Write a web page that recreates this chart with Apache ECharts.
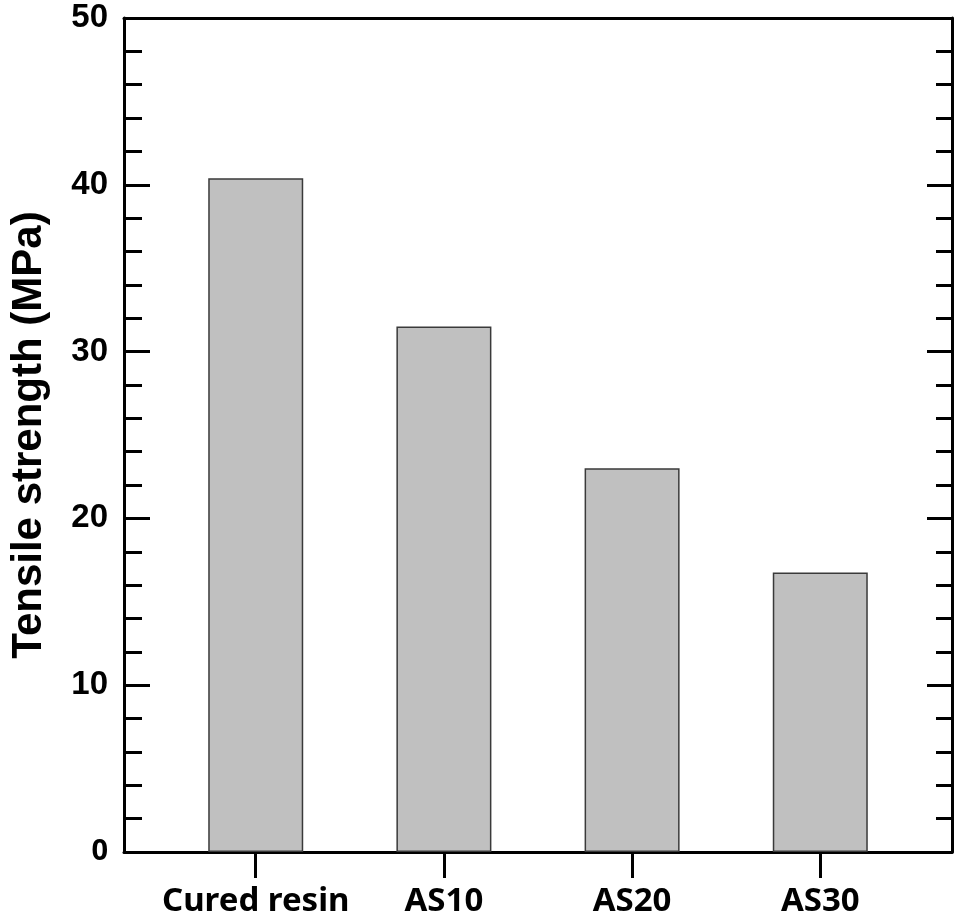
<!DOCTYPE html>
<html>
<head>
<meta charset="utf-8">
<script src="https://cdn.jsdelivr.net/npm/echarts@6/dist/echarts.min.js"></script>
<style>html,body{margin:0;padding:0;background:#fff}#c{width:960px;height:920px}</style>
</head>
<body>
<div id="c"></div>
<script>
const categories = ['Cured resin', 'AS10', 'AS20', 'AS30'];
const tensileStrength = [40.4, 31.5, 23.0, 16.75];
const yTicks = [0, 10, 20, 30, 40, 50];
const yTitle = 'Tensile strength (MPa)';

const positions = categories.map((c, i) => i + 1);
const barData = positions.map((p, i) => [p, tensileStrength[i]]);

const chart = echarts.init(document.getElementById('c'));
const lineW = 3;
chart.setOption({
  animation: false,
  backgroundColor: '#fff',
  grid: { left: 119, right: 8, top: 18, bottom: 68, containLabel: false },
  xAxis: [{
    type: 'value', min: 0.3, max: 4.7, position: 'bottom',
    splitLine: { show: false },
    axisLine: { show: true, lineStyle: { color: '#000', width: lineW } },
    axisTick: { show: true, inside: false, length: 26, customValues: positions, lineStyle: { color: '#000', width: lineW } },
    axisLabel: {
      show: true, customValues: positions, margin: 33,
      formatter: v => categories[Math.round(v) - 1],
      fontFamily: 'Noto Sans', fontWeight: 'bold', fontSize: 33, color: '#000'
    }
  }, {
    type: 'value', min: 0.3, max: 4.7, position: 'top',
    splitLine: { show: false },
    axisLine: { show: true, onZero: false, lineStyle: { color: '#000', width: lineW } },
    axisTick: { show: false }, axisLabel: { show: false }
  }],
  yAxis: [{
    type: 'value', min: yTicks[0], max: yTicks[yTicks.length - 1], interval: 10, position: 'left',
    name: yTitle, nameLocation: 'middle', nameGap: 74,
    nameTextStyle: { fontFamily: 'Liberation Sans', fontWeight: 'bold', fontSize: 42, color: '#000' },
    splitLine: { show: false },
    axisLine: { show: true, onZero: false, lineStyle: { color: '#000', width: lineW } },
    axisTick: { show: true, inside: true, length: 26, lineStyle: { color: '#000', width: lineW } },
    minorTick: { show: true, splitNumber: 5, length: 18, lineStyle: { color: '#000', width: lineW } },
    axisLabel: {
      margin: 16, fontFamily: 'Liberation Sans', fontWeight: 'bold', fontSize: 33, color: '#000',
      formatter: v => v === 0 ? '{z|0}' : String(v),
      rich: { z: { fontFamily: 'Noto Sans', fontWeight: 'bold', fontSize: 29, color: '#000' } }
    }
  }, {
    type: 'value', min: yTicks[0], max: yTicks[yTicks.length - 1], interval: 10, position: 'right',
    splitLine: { show: false },
    axisLine: { show: true, onZero: false, lineStyle: { color: '#000', width: lineW } },
    axisTick: { show: true, inside: true, length: 25, lineStyle: { color: '#000', width: lineW } },
    minorTick: { show: true, splitNumber: 5, length: 16, lineStyle: { color: '#000', width: lineW } },
    axisLabel: { show: false }
  }],
  series: [{
    type: 'bar', xAxisIndex: 0, yAxisIndex: 0,
    data: barData, barWidth: 95,
    itemStyle: { color: '#c0c0c0', borderColor: '#3a3a3a', borderWidth: 1.5 }
  }]
});
</script>
</body>
</html>
